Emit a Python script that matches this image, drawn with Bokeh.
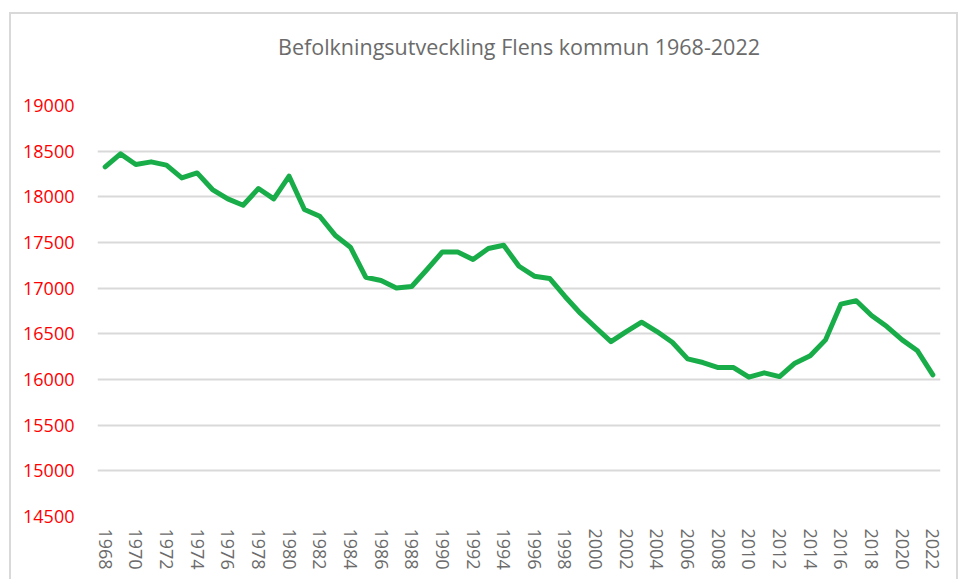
from bokeh.plotting import figure
from bokeh.models import FixedTicker, Range1d, LinearAxis
from bokeh.embed import file_html
from bokeh.resources import INLINE

years = [1968, 1969, 1970, 1971, 1972, 1973, 1974, 1975, 1976, 1977,
         1978, 1979, 1980, 1981, 1982, 1983, 1984, 1985, 1986, 1987,
         1988, 1989, 1990, 1991, 1992, 1993, 1994, 1995, 1996, 1997,
         1998, 1999, 2000, 2001, 2002, 2003, 2004, 2005, 2006, 2007,
         2008, 2009, 2010, 2011, 2012, 2013, 2014, 2015, 2016, 2017,
         2018, 2019, 2020, 2021, 2022]
population = [18328, 18470, 18354, 18383, 18347, 18207, 18262, 18080, 17977, 17908,
              18091, 17977, 18226, 17861, 17788, 17580, 17449, 17120, 17084, 17003,
              17018, 17204, 17397, 17397, 17314, 17434, 17470, 17240, 17131, 17106,
              16909, 16726, 16569, 16415, 16525, 16627, 16525, 16408, 16226, 16186,
              16131, 16131, 16025, 16073, 16032, 16179, 16259, 16434, 16825, 16862,
              16701, 16580, 16434, 16314, 16051]
x_ticks = [1968, 1970, 1972, 1974, 1976, 1978, 1980, 1982, 1984, 1986, 1988,
           1990, 1992, 1994, 1996, 1998, 2000, 2002, 2004, 2006, 2008, 2010,
           2012, 2014, 2016, 2018, 2020, 2022]
y_ticks = [14500, 15000, 15500, 16000, 16500, 17000, 17500, 18000, 18500, 19000]
title_text = "Befolkningsutveckling Flens kommun 1968-2022"

FONT = "Open Sans"
GRID = "#d9d9d9"

p = figure(width=949, height=567, output_backend="svg", toolbar_location=None,
           x_range=Range1d(1967.5, 2022.5), y_range=Range1d(14500, 19000),
           min_border_left=86, min_border_right=20, min_border_top=91,
           min_border_bottom=65, margin=(12, 0, 0, 9),
           styles={"border-top": "2px solid #d9d9d9",
                   "border-left": "2px solid #d9d9d9",
                   "border-right": "2px solid #d9d9d9"})

p.outline_line_color = None
p.background_fill_color = "white"
p.border_fill_color = "white"

# chart title drawn as the label of a tick-less axis above the plot area,
# centred over the whole chart area (bounds shift the centre to the left)
title_axis = LinearAxis(ticker=FixedTicker(ticks=[]), bounds=(1967.5, 2016.2),
                        axis_label=title_text, axis_label_standoff=45,
                        axis_label_text_font=FONT,
                        axis_label_text_font_size="21.5px",
                        axis_label_text_font_style="normal",
                        axis_label_text_color="#6b6b6b",
                        axis_line_color=None, major_tick_line_color=None,
                        minor_tick_line_color=None, major_tick_out=0,
                        major_tick_in=0, minor_tick_out=0, minor_tick_in=0,
                        major_label_standoff=0)
p.add_layout(title_axis, "above")

p.line(years, population, line_color="#19ad4a", line_width=5,
       line_join="round", line_cap="round")

p.xaxis.ticker = FixedTicker(ticks=x_ticks)
title_axis.ticker = FixedTicker(ticks=[])
p.yaxis.ticker = FixedTicker(ticks=y_ticks)
p.below[0].major_label_orientation = "vertical"
for ax in (p.below[0], p.yaxis[0]):
    ax.axis_line_color = None
    ax.major_tick_line_color = None
    ax.minor_tick_line_color = None
    ax.major_tick_out = 0
    ax.major_tick_in = 0
    ax.major_label_text_font = FONT
    ax.major_label_text_font_size = "18px"
p.below[0].major_label_text_color = "#6b6b6b"
p.yaxis.major_label_text_color = "#ff0000"
p.below[0].major_label_standoff = 12
p.yaxis.major_label_standoff = 23

p.xgrid.grid_line_color = None
p.ygrid.grid_line_color = GRID
p.ygrid.grid_line_width = 2

open("out.html", "w").write(file_html(p, INLINE))
